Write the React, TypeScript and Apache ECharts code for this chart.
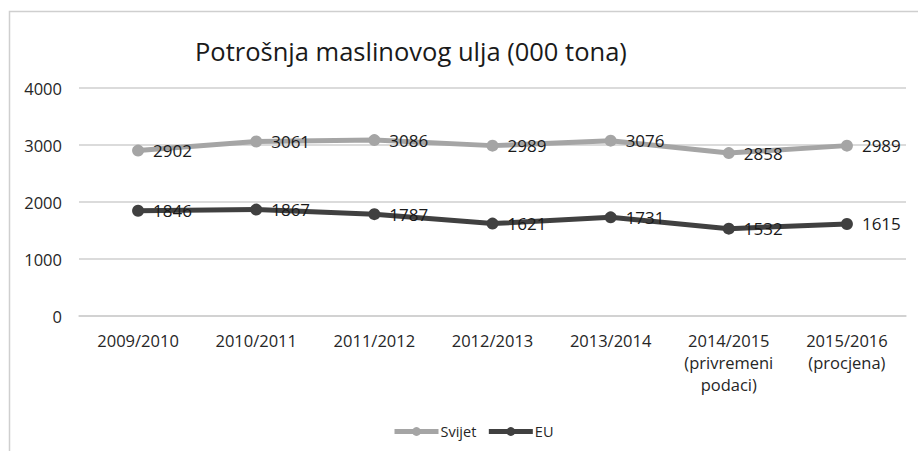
import React, { useEffect, useRef } from "react";
import * as echarts from "echarts";

const categories = [
  "2009/2010",
  "2010/2011",
  "2011/2012",
  "2012/2013",
  "2013/2014",
  "2014/2015\n(privremeni\npodaci)",
  "2015/2016\n(procjena)",
];
const svijet = [2902, 3061, 3086, 2989, 3076, 2858, 2989];
const eu = [1846, 1867, 1787, 1621, 1731, 1532, 1615];
const yTicks = { min: 0, max: 4000, interval: 1000 };
const titleText = "Potrošnja maslinovog ulja (000 tona)";

const FONT = "Open Sans";

export default function App() {
  const ref = useRef<HTMLDivElement>(null);
  useEffect(() => {
    if (!ref.current) return;
    const chart = echarts.init(ref.current, null, { renderer: "svg" });
    const label = {
      show: true,
      position: "right" as const,
      distance: 9,
      fontSize: 17,
      fontFamily: FONT,
      color: "#1a1a1a",
    };
    chart.setOption({
      animation: false,
      backgroundColor: "#ffffff",
      textStyle: { fontFamily: FONT },
      title: {
        text: titleText,
        left: 190,
        top: 33,
        textStyle: { fontSize: 25.5, fontWeight: "normal", color: "#1a1a1a", fontFamily: FONT },
      },
      graphic: [
        {
          type: "rect",
          shape: { x: 9.5, y: 11.5, width: 1200, height: 1200 },
          style: { fill: "none", stroke: "#cfcfcf", lineWidth: 1.5 },
          silent: true,
        },
      ],
      legend: {
        data: ["Svijet", "EU"],
        left: 387,
        top: 419,
        itemWidth: 44,
        itemHeight: 11,
        itemGap: 10,
        lineStyle: { width: 5 },
        textStyle: { fontSize: 14.5, color: "#262626", fontFamily: FONT, padding: [0, 0, 0, -3] },
      },
      grid: { left: 79, right: 12, top: 88, bottom: 135 },
      xAxis: {
        type: "category",
        data: categories,
        boundaryGap: true,
        axisLine: { show: true, lineStyle: { color: "#cfcfcf", width: 1.5 } },
        axisTick: { show: false },
        axisLabel: {
          fontSize: 16.5,
          lineHeight: 22,
          color: "#262626",
          margin: 13,
          fontFamily: FONT,
          interval: 0,
        },
      },
      yAxis: {
        type: "value",
        min: yTicks.min,
        max: yTicks.max,
        interval: yTicks.interval,
        axisLine: { show: false },
        axisTick: { show: false },
        splitLine: { lineStyle: { color: "#cfcfcf", width: 1.5 } },
        axisLabel: {
          fontSize: 16.5,
          color: "#262626",
          margin: 17,
          fontFamily: FONT,
          formatter: (v: number) => String(v),
        },
      },
      series: [
        {
          name: "Svijet",
          type: "line",
          data: svijet,
          symbol: "circle",
          symbolSize: 12,
          itemStyle: { color: "#a5a5a5" },
          lineStyle: { color: "#a5a5a5", width: 5 },
          label,
        },
        {
          name: "EU",
          type: "line",
          data: eu,
          symbol: "circle",
          symbolSize: 12,
          itemStyle: { color: "#404040" },
          lineStyle: { color: "#404040", width: 5 },
          label,
        },
      ],
    });
    return () => chart.dispose();
  }, []);
  return (
    <div
      ref={ref}
      style={{ position: "fixed", left: 0, top: 0, width: 918, height: 451 }}
    />
  );
}
